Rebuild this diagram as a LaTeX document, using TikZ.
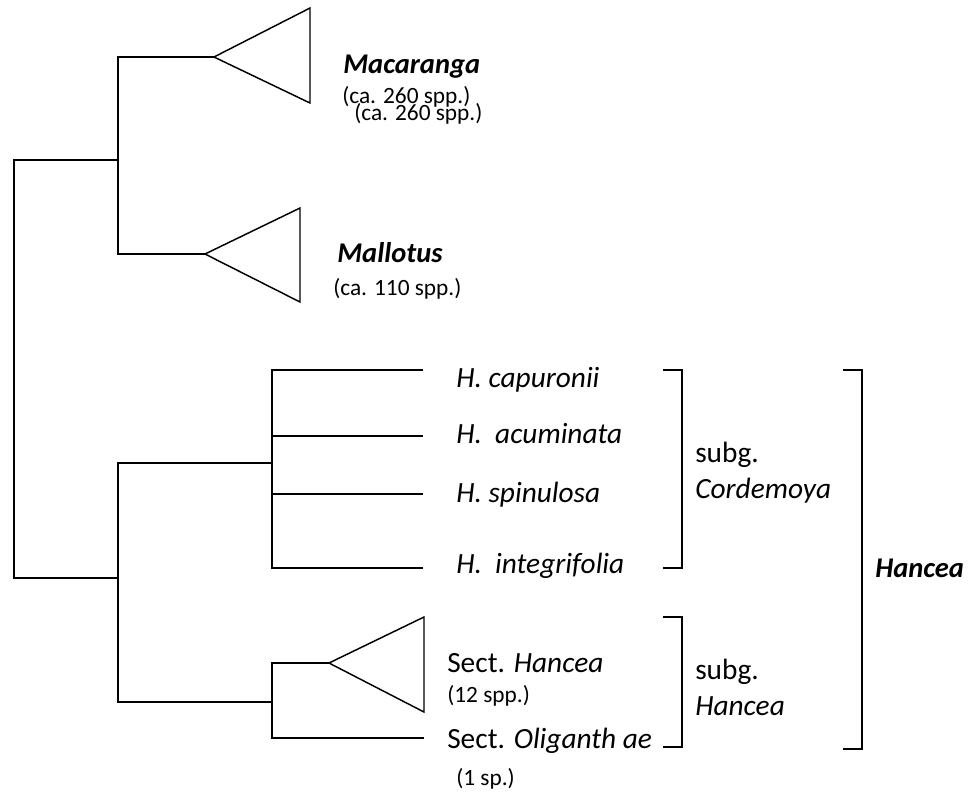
\documentclass[tikz,border=0pt]{standalone}
\usepackage{fontspec}
\setmainfont{Carlito}
\begin{document}
\begin{tikzpicture}[x=0.75pt,y=-0.75pt,
  branch/.style={line width=1.1pt},
  clade/.style={line width=1.1pt, line join=miter},
  taxon/.style={anchor=base west, inner sep=0pt, font=\fontsize{22}{26}\selectfont},
  boldtaxon/.style={anchor=base west, inner sep=0pt, font=\fontsize{21.4}{25}\selectfont\bfseries\itshape},
  count/.style={anchor=base west, inner sep=0pt, font=\fontsize{17.5}{21}\selectfont},
  bracketline/.style={line width=1.1pt, line join=miter}]
\useasboundingbox (0,0) rectangle (970,794);
% joints
\coordinate (r1) at (14,160);
\coordinate (r2) at (14,578);
\coordinate (u) at (118,160);
\coordinate (ut) at (118,57);
\coordinate (ub) at (118,254);
\coordinate (l) at (118,578);
\coordinate (lt) at (118,463);
\coordinate (lb) at (118,702);
\coordinate (c) at (272,463);
\coordinate (c1) at (272,370);
\coordinate (c2) at (272,436);
\coordinate (c3) at (272,494);
\coordinate (c4) at (272,568);
\coordinate (s) at (272,702);
\coordinate (s1) at (272,663);
\coordinate (s2) at (272,738);
\coordinate (e1) at (423,370);
\coordinate (e2) at (423,436);
\coordinate (e3) at (423,494);
\coordinate (e4) at (423,568);
\coordinate (e5) at (424,738);
% triangle apexes
\coordinate (mac) at (214,57);
\coordinate (mal) at (205,254);
\coordinate (han) at (329,663);
% tree
\draw[branch] (u) -- (r1) -- (r2) -- (l);
\draw[branch] (mac) -- (ut) -- (ub) -- (mal);
\draw[branch] (c) -- (lt) -- (lb) -- (s);
\draw[branch] (e1) -- (c1) -- (c4) -- (e4);
\draw[branch] (c2) -- (e2);
\draw[branch] (c3) -- (e3);
\draw[branch] (han) -- (s1) -- (s2) -- (e5);
% triangles
\draw[clade] (mac) -- (310,8) -- (310,103) -- cycle;
\draw[clade] (mal) -- (300,208) -- (300,302) -- cycle;
\draw[clade] (han) -- (424,617) -- (424,712) -- cycle;
% labels
\node[boldtaxon] (tmac) at (343,73) {Macaranga};
\node[count] (nmac1) at (342,103) {(ca. 260 spp.)};
\node[count] (nmac2) at (354,120) {(ca. 260 spp.)};
\node[boldtaxon] (tmal) at (337,262) {Mallotus};
\node[count] (nmal) at (333,295) {(ca. 110 spp.)};
\node[taxon] (h1) at (456,387) {\itshape H. capuronii};
\node[taxon] (h2) at (456,443) {\itshape H.\ \ acuminata};
\node[taxon] (h3) at (456,502) {\itshape H. spinulosa};
\node[taxon] (h4) at (456,573) {\itshape H.\ \ integrifolia};
\node[taxon] (sh) at (447,672) {Sect. \itshape Hancea};
\node[count] (nsh) at (447,702) {(12 spp.)};
\node[taxon] (so) at (447,748) {Sect. \itshape Oliganth ae};
\node[count] (nso) at (456,785) {(1 sp.)};
\node[taxon] (sg1) at (695,462) {subg.};
\node[taxon] (sg1n) at (695,498) {\itshape Cordemoya};
\node[taxon] (sg2) at (695,679) {subg.};
\node[taxon] (sg2n) at (695,715) {\itshape Hancea};
\node[boldtaxon] (big) at (875,577) {Hancea};
% brackets
\draw[bracketline] (663,370) -- (682,370) -- (682,568) -- (663,568);
\draw[bracketline] (663,617) -- (682,617) -- (682,747) -- (663,747);
\draw[bracketline] (843,370) -- (862,370) -- (862,749) -- (843,749);
\end{tikzpicture}
\end{document}
